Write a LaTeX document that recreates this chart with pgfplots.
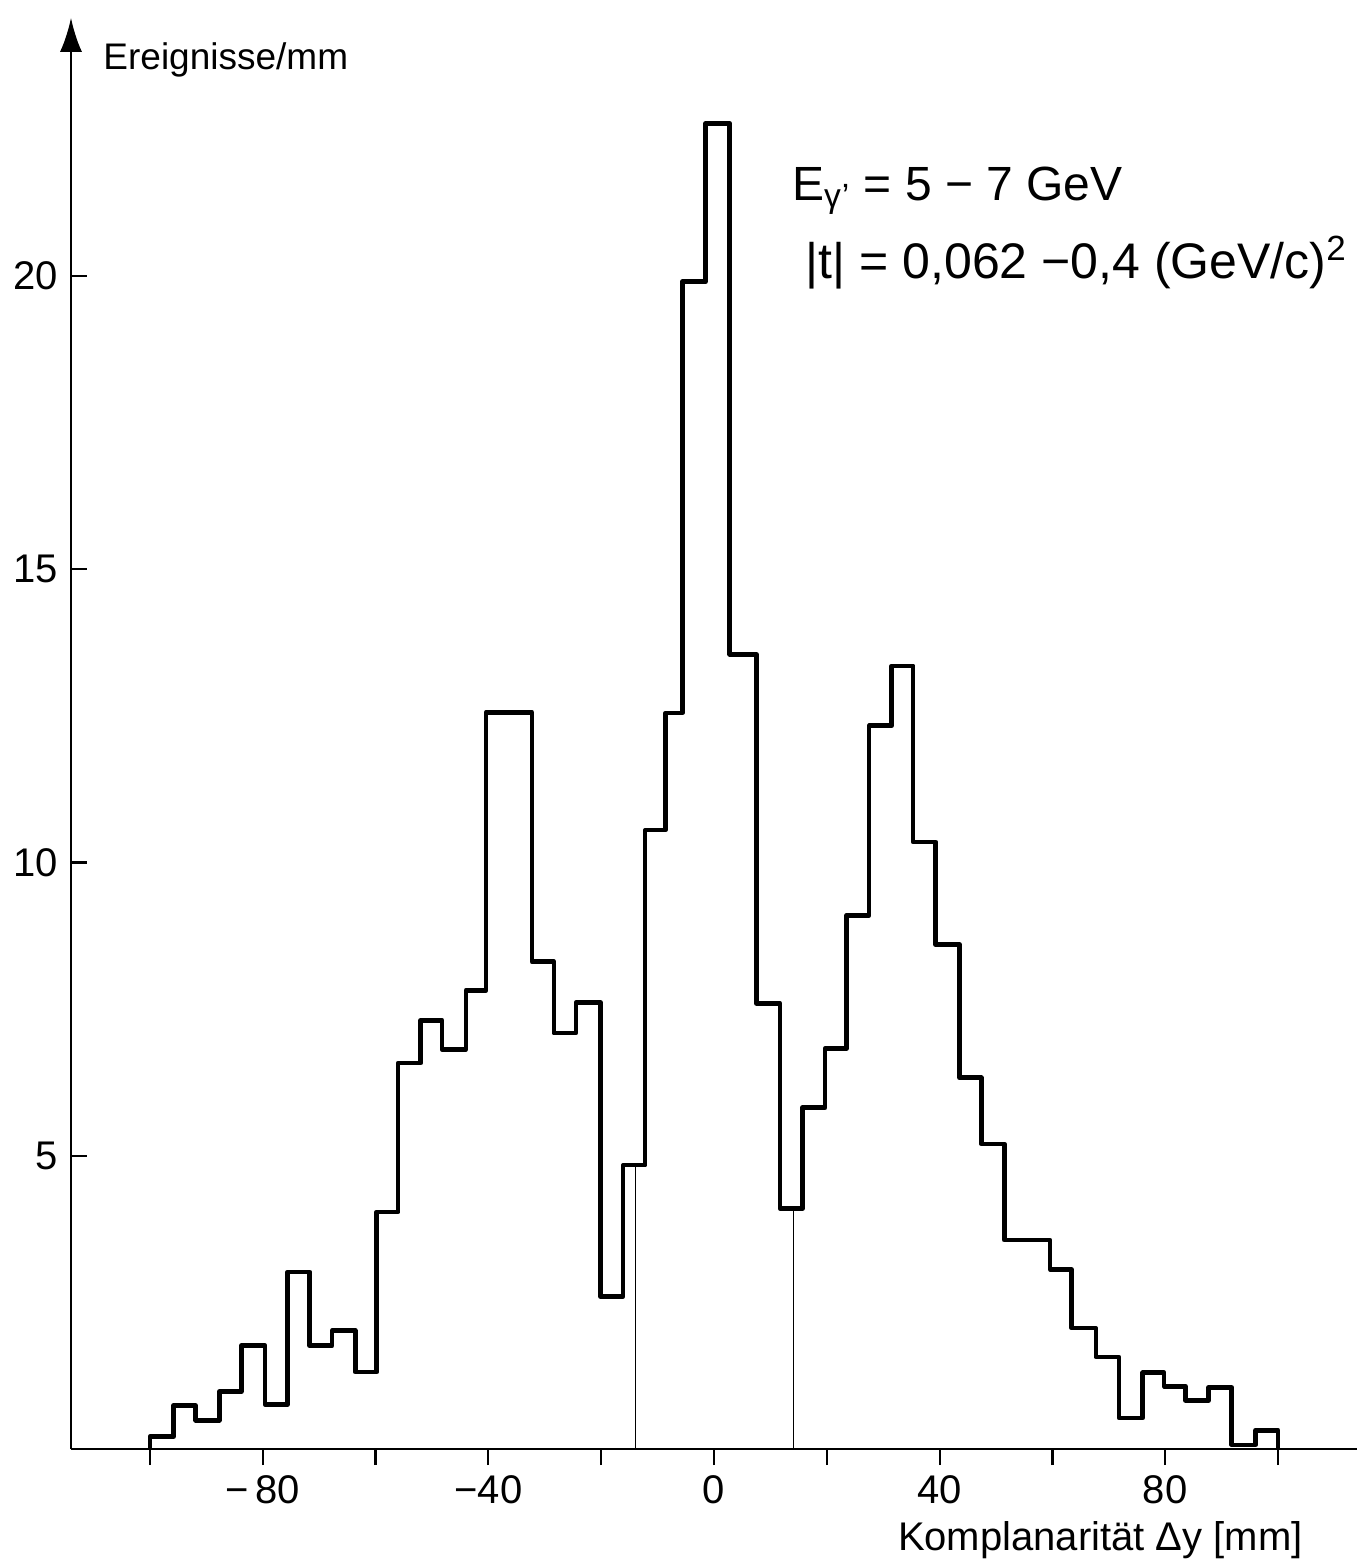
\documentclass[border=0pt]{standalone}
\usepackage{fontspec}
\setmainfont{Liberation Sans}
\usepackage{pgfplots}
\usepackage{pgfplotstable}
\pgfplotsset{compat=1.18}
\usetikzlibrary{arrows.meta}
\pgfplotstableread{
x y
-100 0
-100 0.21
-95.8 0.74
-91.9 0.49
-87.7 0.98
-83.8 1.76
-79.6 0.76
-75.6 3.02
-71.7 1.76
-67.7 2.02
-63.6 1.31
-59.8 4.04
-56.0 6.58
-52.0 7.31
-48.2 6.81
-44.0 7.82
-40.4 12.56
-32.3 8.31
-28.4 7.09
-24.5 7.61
-20.1 2.60
-16.1 4.84
-12.2 10.55
-8.6 12.55
-5.6 19.9
-1.5 22.6
2.8 13.55
7.5 7.6
11.7 4.1
15.7 5.82
19.7 6.83
23.5 9.1
27.5 12.33
31.5 13.35
35.3 10.35
39.3 8.6
43.5 6.33
47.4 5.2
51.5 3.56
59.6 3.06
63.4 2.06
67.7 1.57
71.8 0.53
76.0 1.3
79.8 1.07
83.6 0.83
87.7 1.05
91.8 0.07
96.0 0.32
100 0
}\histdata
\begin{document}
\begin{tikzpicture}
\begin{axis}[
  at={(0,0)}, anchor=south west,
  scale only axis, width=643pt, height=715.6pt,
  xmin=-114, xmax=114, ymin=0, ymax=24.4,
  axis x line*=bottom, axis y line=left,
  x axis line style={-, line width=1.3pt},
  y axis line style={-{Latex[length=17pt,width=11pt]}, line width=1.3pt},
  xtick={-100,-80,...,100},
  xticklabels={,{−\,80},,{−40},,0,,40,,80,},
  ytick={5,10,15,20},
  xtick align=outside, ytick align=inside,
  major tick length=8pt,
  major tick style={black, line width=1.1pt},
  tick label style={font=\fontsize{20}{24}\selectfont},
  xticklabel style={yshift=-2pt},
  yticklabel style={xshift=-3pt},
  /pgf/number format/assume math mode=true,
  clip=false,
]
\addplot[const plot, black, line width=2.3pt, line join=round] table[x=x,y=y] {\histdata};
\addplot[black, line width=0.7pt] coordinates {(-13.9,0) (-13.9,4.84)};
\addplot[black, line width=0.7pt] coordinates {(14.1,0) (14.1,4.1)};
\node[anchor=west, font=\fontsize{18.5}{22}\selectfont] at (axis cs:-109.5,23.68) {Ereignisse/mm};
\node[anchor=west, font=\fontsize{24}{28}\selectfont] at (axis cs:12.6,21.45) {E\textsubscript{γ\kern0.5pt'} = 5 − 7 GeV};
\node[anchor=west, font=\fontsize{25}{29}\selectfont] at (axis cs:15.0,20.22) {|t| = 0,062 −0,4 (GeV/c)\textsuperscript{2}};
\node[anchor=center, font=\fontsize{20}{24}\selectfont] at (axis cs:68.5,0) [yshift=-45.5pt] {Komplanarität Δy [mm]};
\end{axis}
\pgfresetboundingbox
\path (-35.5pt,-57.5pt) rectangle (647.5pt,724.5pt);
\end{tikzpicture}
\end{document}
